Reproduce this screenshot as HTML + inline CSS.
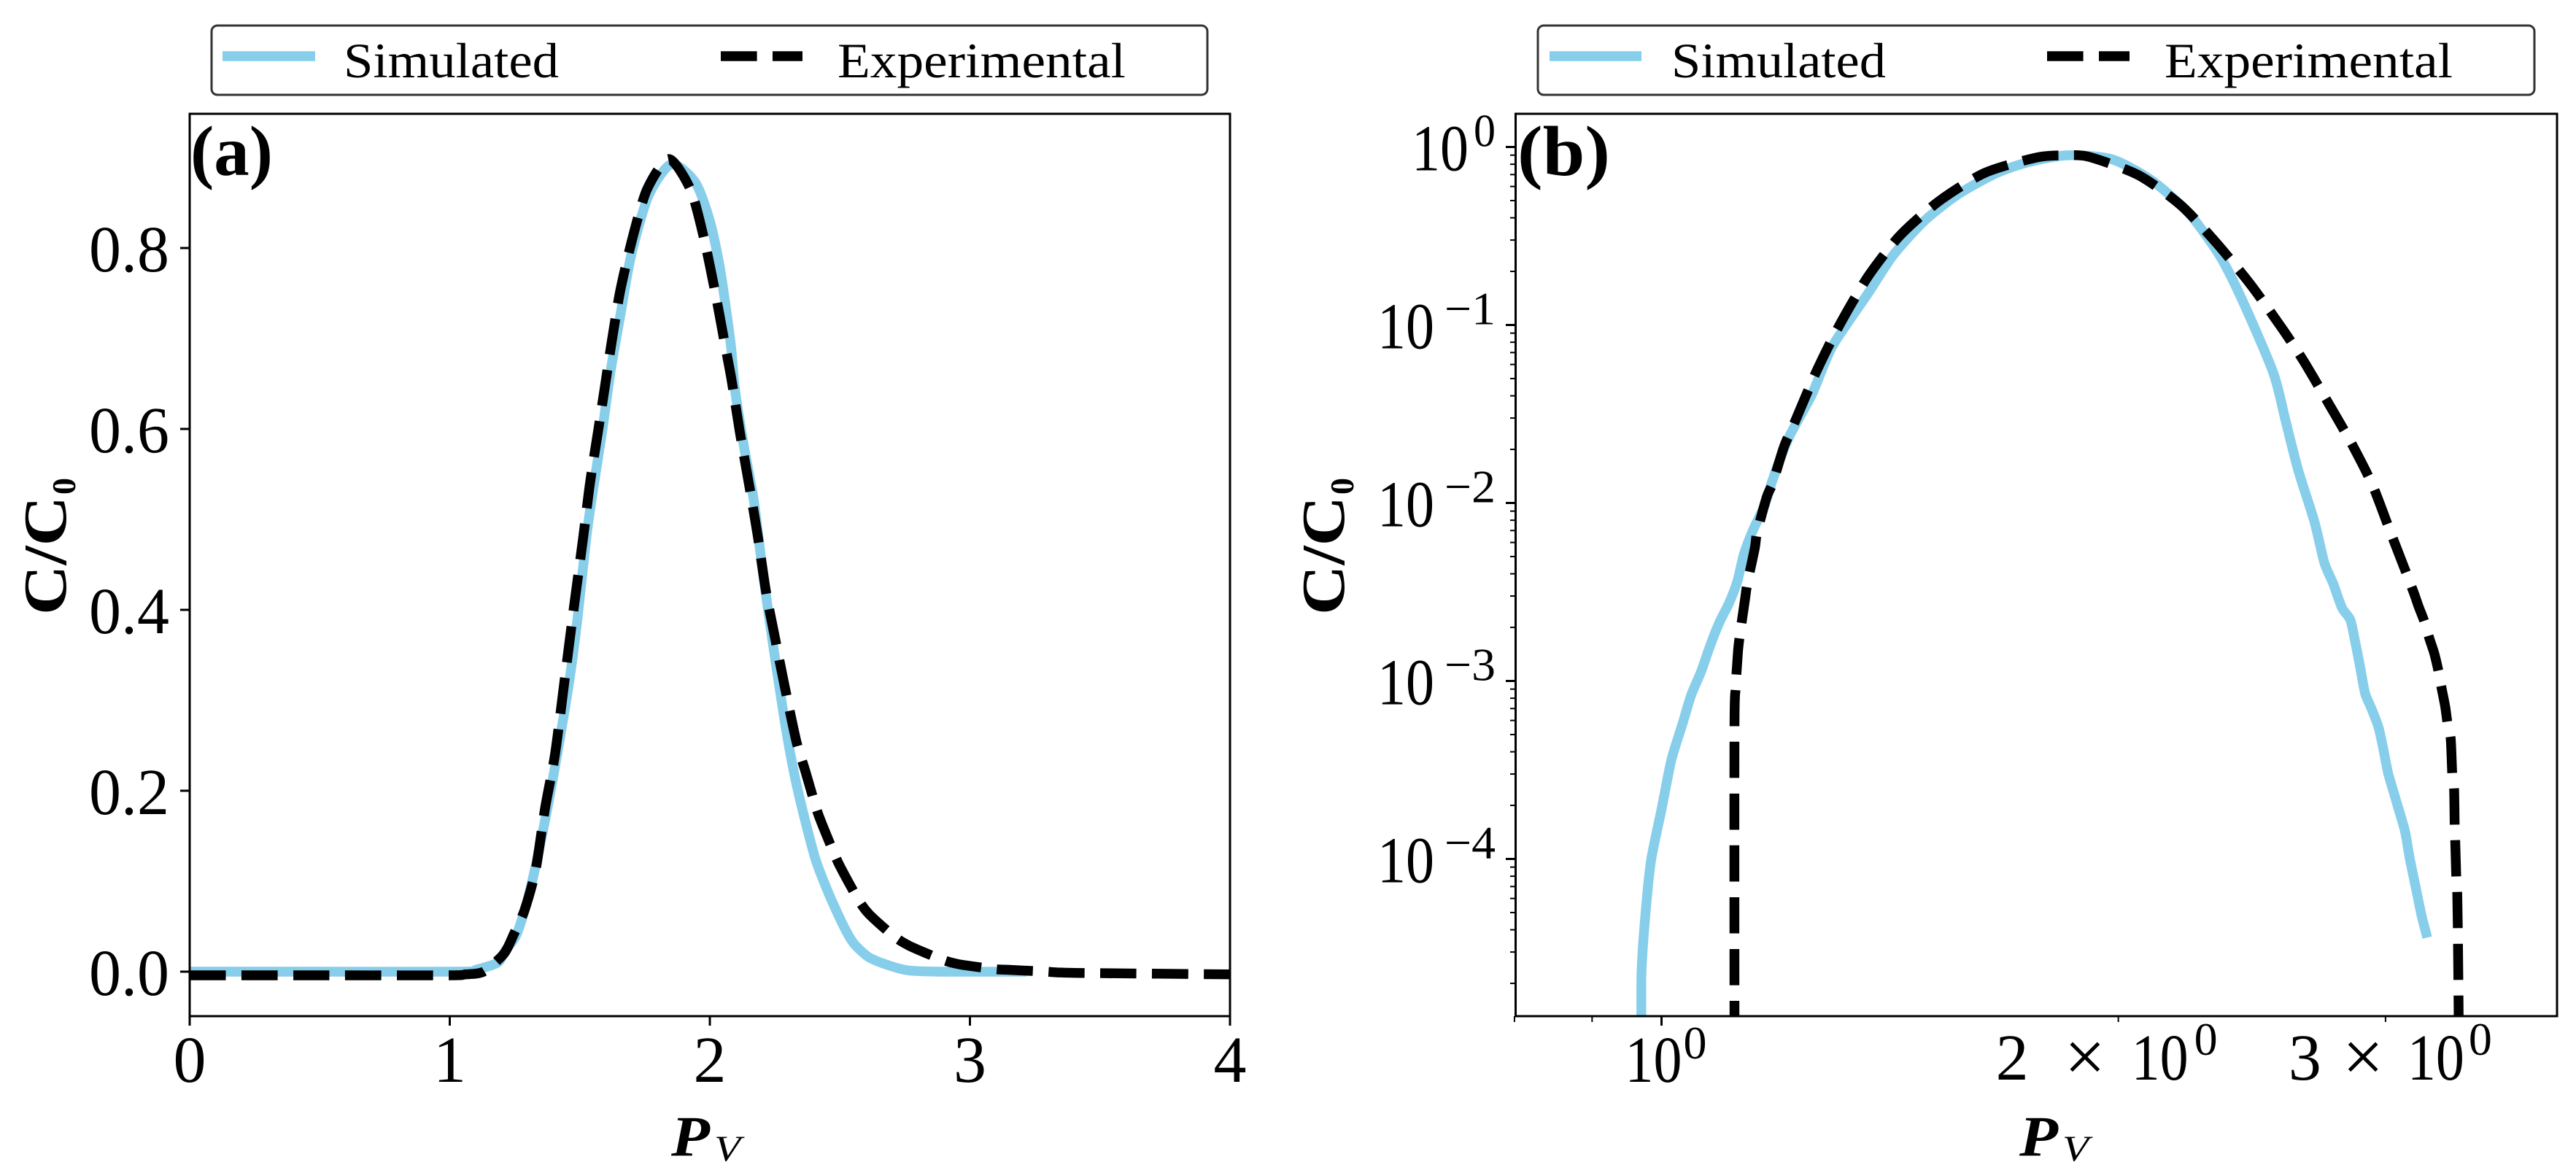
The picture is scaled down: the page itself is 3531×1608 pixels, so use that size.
<!DOCTYPE html>
<html lang="en">
<head>
<meta charset="utf-8">
<title>Simulated vs experimental C/C0 over Pv</title>
<style>
html,body{margin:0;padding:0;background:#fff;width:3531px;height:1608px;overflow:hidden}
svg{display:block}
text{font-family:"Liberation Serif",serif;fill:#000}
</style>
</head>
<body>
<svg id="fig" xmlns="http://www.w3.org/2000/svg" width="3531" height="1608" viewBox="0 0 3531 1608">
  <rect x="0" y="0" width="3531" height="1608" fill="#fff"/>
  <defs>
    <clipPath id="clip-a"><rect x="260" y="156" width="1426" height="1237"/></clipPath>
    <clipPath id="clip-b"><rect x="2077.5" y="156" width="1427.5" height="1237"/></clipPath>
  </defs>

  <g>
    <rect x="290" y="35" width="1365" height="95" rx="8" ry="8" fill="#fff" stroke="#333" stroke-width="3"/>
    <line x1="305" y1="77" x2="432" y2="77" stroke="#87CEEB" stroke-width="13.4"/>
    <text x="471" y="106" font-size="68" textLength="295" lengthAdjust="spacingAndGlyphs">Simulated</text>
    <line x1="988" y1="77" x2="1100" y2="77" stroke="#000" stroke-width="13.4" stroke-dasharray="49.6 21.4"/>
    <text x="1148" y="106" font-size="68" textLength="395" lengthAdjust="spacingAndGlyphs">Experimental</text>
  </g>
  <g>
    <rect x="2108" y="35" width="1366" height="95" rx="8" ry="8" fill="#fff" stroke="#333" stroke-width="3"/>
    <line x1="2124" y1="77" x2="2250" y2="77" stroke="#87CEEB" stroke-width="13.4"/>
    <text x="2291" y="106" font-size="68" textLength="294" lengthAdjust="spacingAndGlyphs">Simulated</text>
    <line x1="2806" y1="77" x2="2919" y2="77" stroke="#000" stroke-width="13.4" stroke-dasharray="49.6 21.4"/>
    <text x="2967" y="106" font-size="68" textLength="395" lengthAdjust="spacingAndGlyphs">Experimental</text>
  </g>

  <g id="plot-a"></g>
  <g id="plot-b"></g>

  <text x="261" y="240" font-size="98" font-weight="bold" textLength="113" lengthAdjust="spacingAndGlyphs">(a)</text>
  <text x="2080" y="240" font-size="98" font-weight="bold" textLength="127" lengthAdjust="spacingAndGlyphs">(b)</text>

  <g>
    <text transform="translate(90,843) rotate(-90)" font-size="84" font-weight="bold" textLength="163" lengthAdjust="spacingAndGlyphs">C/C</text>
    <text transform="translate(103,678) rotate(-90)" font-size="46" font-weight="bold">0</text>
  </g>
  <g>
    <text transform="translate(1842,843) rotate(-90)" font-size="84" font-weight="bold" textLength="163" lengthAdjust="spacingAndGlyphs">C/C</text>
    <text transform="translate(1855,678) rotate(-90)" font-size="46" font-weight="bold">0</text>
  </g>
  <g>
    <text x="920" y="1584" font-size="78" font-weight="bold" font-style="italic" textLength="53" lengthAdjust="spacingAndGlyphs">P</text>
    <text x="979" y="1591" font-size="50" font-style="italic" textLength="36" lengthAdjust="spacingAndGlyphs">V</text>
  </g>
  <g>
    <text x="2768" y="1584" font-size="78" font-weight="bold" font-style="italic" textLength="53" lengthAdjust="spacingAndGlyphs">P</text>
    <text x="2827" y="1591" font-size="50" font-style="italic" textLength="36" lengthAdjust="spacingAndGlyphs">V</text>
  </g>
</svg>

<script>
// Panel (a): linear axes
const aXTicks = [0, 1, 2, 3, 4];
const aYTicks = [0.0, 0.2, 0.4, 0.6, 0.8];
const aYTickLabels = ['0.0', '0.2', '0.4', '0.6', '0.8'];

const aSimX = [0, 0.5, 1.05, 1.1, 1.184, 1.212, 1.256, 1.296, 1.334, 1.375, 1.413, 1.46, 1.492, 1.526, 1.555, 1.586, 1.618, 1.655, 1.696, 1.763, 1.851, 1.944, 2.0, 2.04, 2.08, 2.096, 2.131, 2.168, 2.2, 2.231, 2.262, 2.293, 2.328, 2.37, 2.408, 2.459, 2.515, 2.553, 2.609, 2.674, 2.758, 2.88, 3.216];
const aSimY = [0, 0, 0, 0.002, 0.01, 0.0227, 0.0405, 0.0759, 0.122, 0.18, 0.24, 0.322, 0.3925, 0.482, 0.54, 0.597, 0.663, 0.724, 0.79, 0.857, 0.8927, 0.8726, 0.83, 0.776, 0.695, 0.645, 0.581, 0.523, 0.45, 0.385, 0.325, 0.2677, 0.214, 0.163, 0.1226, 0.085, 0.05, 0.0314, 0.0164, 0.0083, 0.0016, 0, 0];

const aExpX = [0, 0.5, 1.0, 1.06, 1.13, 1.209, 1.247, 1.287, 1.33, 1.366, 1.405, 1.445, 1.476, 1.514, 1.539, 1.57, 1.596, 1.622, 1.655, 1.7, 1.758, 1.842, 1.926, 1.978, 2.02, 2.057, 2.083, 2.115, 2.153, 2.184, 2.216, 2.25, 2.288, 2.333, 2.367, 2.405, 2.426, 2.478, 2.504, 2.571, 2.613, 2.707, 2.768, 2.889, 2.955, 3.09, 3.151, 3.291, 3.352, 3.478, 4.0];
const aExpY = [-0.004, -0.004, -0.004, -0.003, 0, 0.02, 0.042, 0.0675, 0.112, 0.18, 0.241, 0.33, 0.4, 0.482, 0.54, 0.597, 0.646, 0.695, 0.752, 0.808, 0.8645, 0.8985, 0.8645, 0.81, 0.752, 0.695, 0.655, 0.597, 0.535, 0.482, 0.42, 0.37, 0.315, 0.2543, 0.222, 0.1844, 0.167, 0.1306, 0.1145, 0.0796, 0.0634, 0.0393, 0.0285, 0.0137, 0.0083, 0.003, 0.002, 0, -0.001, -0.0016, -0.003];

// Panel (b): log-log axes
const bXMajorTicks = [1, 2, 3];
const bXMinorTicks = [0.8, 0.9];
const bYDecades = [0, -1, -2, -3, -4];
const bYMinorDecades = [-1, -2, -3, -4, -5];
const bYMinorMultipliers = [2, 3, 4, 5, 6, 7, 8, 9];

const bSimX = [0.97, 0.97, 0.975, 0.984, 1.0, 1.015, 1.032, 1.046, 1.062, 1.076, 1.092, 1.108, 1.122, 1.133, 1.149, 1.169, 1.184, 1.213, 1.256, 1.296, 1.367, 1.421, 1.49, 1.568, 1.66, 1.74, 1.848, 1.978, 2.102, 2.227, 2.332, 2.412, 2.53, 2.578, 2.627, 2.693, 2.734, 2.771, 2.808, 2.844, 2.865, 2.886, 2.908, 2.935, 2.968, 2.99, 3.012, 3.051, 3.09, 3.112, 3.141, 3.17, 3.196];
const bSimY = [1e-5, 2.25e-5, 4.45e-5, 9.66e-5, 1.9e-4, 3.59e-4, 5.7e-4, 8.32e-4, 1.13e-3, 1.56e-3, 2.14e-3, 2.74e-3, 3.64e-3, 5.14e-3, 7.05e-3, 9.66e-3, 0.0136, 0.0233, 0.0405, 0.0759, 0.149, 0.246, 0.384, 0.541, 0.709, 0.816, 0.897, 0.856, 0.653, 0.422, 0.246, 0.14, 0.054, 0.0289, 0.0154, 0.00786, 0.00462, 0.00352, 0.00258, 0.0022, 0.00166, 0.00121, 8.55e-4, 7.08e-4, 5.51e-4, 4.15e-4, 3.03e-4, 2.08e-4, 1.43e-4, 1.01e-4, 6.9e-5, 4.73e-5, 3.62e-5];

const bExpX = [1.117, 1.117, 1.119, 1.123, 1.126, 1.135, 1.139, 1.152, 1.156, 1.173, 1.184, 1.204, 1.225, 1.264, 1.307, 1.367, 1.436, 1.525, 1.634, 1.766, 1.843, 1.913, 2.062, 2.2, 2.321, 2.444, 2.56, 2.65, 2.745, 2.85, 2.94, 3.03, 3.124, 3.153, 3.182, 3.206, 3.231, 3.252, 3.266, 3.284, 3.296, 3.312, 3.32, 3.329, 3.332, 3.335, 3.34, 3.345, 3.349, 3.353];
const bExpY = [1e-5, 5.33e-4, 9.14e-4, 1.46e-3, 1.79e-3, 2.87e-3, 3.52e-3, 5.56e-3, 6.82e-3, 0.01076, 0.013, 0.0206, 0.0289, 0.0541, 0.0964, 0.1855, 0.318, 0.4995, 0.717, 0.872, 0.897, 0.88, 0.695, 0.469, 0.289, 0.169, 0.0977, 0.0625, 0.0375, 0.0215, 0.0127, 0.00649, 0.00331, 0.00265, 0.00216, 0.00174, 0.00142, 0.00112, 9.14e-4, 7.22e-4, 5.77e-4, 4.72e-4, 2.94e-4, 2.47e-4, 1.54e-4, 1.24e-4, 7.85e-5, 6.5e-5, 3.15e-5, 1e-5];

// Axis functions
const aAxisX = v => 260 + 356.5 * v;
const aAxisY = v => 1332 - 1240 * v;
const bAxisX = v => 2277.5 + 2080 * Math.log10(v);
const bAxisY = v => 201.5 - 244 * Math.log10(v);

const SVG_NS = 'http://www.w3.org/2000/svg';
const plotA = document.getElementById('plot-a');
const plotB = document.getElementById('plot-b');

function makeTick(parent, x1, y1, x2, y2, width) {
  const t = document.createElementNS(SVG_NS, 'line');
  t.setAttribute('x1', x1);
  t.setAttribute('y1', y1);
  t.setAttribute('x2', x2);
  t.setAttribute('y2', y2);
  t.setAttribute('stroke', '#000');
  t.setAttribute('stroke-width', width);
  parent.appendChild(t);
  return t;
}

function makeText(parent, str, x, y, size, anchor, length) {
  const t = document.createElementNS(SVG_NS, 'text');
  t.setAttribute('x', x);
  t.setAttribute('y', y);
  t.setAttribute('font-size', size);
  t.setAttribute('text-anchor', anchor);
  if (length) {
    t.setAttribute('textLength', length);
    t.setAttribute('lengthAdjust', 'spacingAndGlyphs');
  }
  t.textContent = str;
  parent.appendChild(t);
  return t;
}

// Smooth curve through the mapped data points
function curvePath(xs, ys, fx, fy) {
  const p = xs.map((v, i) => [fx(v), fy(ys[i])]);
  let d = 'M' + p[0][0].toFixed(1) + ' ' + p[0][1].toFixed(1);
  for (let i = 0; i < p.length - 1; i++) {
    const p0 = p[Math.max(i - 1, 0)], p1 = p[i], p2 = p[i + 1], p3 = p[Math.min(i + 2, p.length - 1)];
    const c1x = p1[0] + (p2[0] - p0[0]) / 8, c1y = p1[1] + (p2[1] - p0[1]) / 8;
    const c2x = p2[0] - (p3[0] - p1[0]) / 8, c2y = p2[1] - (p3[1] - p1[1]) / 8;
    d += 'C' + c1x.toFixed(1) + ' ' + c1y.toFixed(1) + ' ' + c2x.toFixed(1) + ' ' + c2y.toFixed(1) + ' ' + p2[0].toFixed(1) + ' ' + p2[1].toFixed(1);
  }
  return d;
}

function makeSeries(parent, xs, ys, fx, fy, color, dashed, clipId) {
  const path = document.createElementNS(SVG_NS, 'path');
  path.setAttribute('d', curvePath(xs, ys, fx, fy));
  path.setAttribute('fill', 'none');
  path.setAttribute('stroke', color);
  path.setAttribute('stroke-width', '13.4');
  path.setAttribute('stroke-linejoin', 'round');
  if (dashed) path.setAttribute('stroke-dasharray', '49.6 21.4');
  path.setAttribute('clip-path', 'url(#' + clipId + ')');
  parent.appendChild(path);
  return path;
}

function makeFrame(parent, x, y, w, h) {
  const r = document.createElementNS(SVG_NS, 'rect');
  r.setAttribute('x', x);
  r.setAttribute('y', y);
  r.setAttribute('width', w);
  r.setAttribute('height', h);
  r.setAttribute('fill', 'none');
  r.setAttribute('stroke', '#000');
  r.setAttribute('stroke-width', '3');
  parent.appendChild(r);
  return r;
}

// ---------- Panel (a) ----------
const simA = makeSeries(plotA, aSimX, aSimY, aAxisX, aAxisY, '#87CEEB', false, 'clip-a');


const expA = makeSeries(plotA, aExpX, aExpY, aAxisX, aAxisY, '#000', true, 'clip-a');


const frameA = makeFrame(plotA, 260, 156, 1426, 1237);



aXTicks.forEach(v => {
  const tick = makeTick(plotA, aAxisX(v), 1393, aAxisX(v), 1406, 3);
  
  
  const label = makeText(plotA, String(v), aAxisX(v), 1483, 90, 'middle');
  
  
});
aYTicks.forEach((v, i) => {
  const tick = makeTick(plotA, 247, aAxisY(v), 260, aAxisY(v), 3);
  
  
  const label = makeText(plotA, aYTickLabels[i], 232, aAxisY(v) + 32, 90, 'end', 110);
  
  
});

// ---------- Panel (b) ----------
const simB = makeSeries(plotB, bSimX, bSimY, bAxisX, bAxisY, '#87CEEB', false, 'clip-b');


const expB = makeSeries(plotB, bExpX, bExpY, bAxisX, bAxisY, '#000', true, 'clip-b');


const frameB = makeFrame(plotB, 2077.5, 156, 1427.5, 1237);



bXMinorTicks.forEach(v => {
  const tick = makeTick(plotB, bAxisX(v), 1393, bAxisX(v), 1401, 2);
  
  
});
bXMajorTicks.forEach(v => {
  const tickX = bAxisX(v);
  const isOne = v === 1;
  const tick = makeTick(plotB, tickX, 1393, tickX, isOne ? 1406 : 1401, isOne ? 3 : 2);
  
  
  if (isOne) {
    const ten = makeText(plotB, '10', tickX - 50, 1483, 90, 'start', 78);
    
    
    const exp = makeText(plotB, '0', tickX + 30, 1451, 64, 'start');
    
    
  } else {
    const off = v === 2 ? [-168, -74, 18, 104] : [-133, -59, 30, 114];
    const mant = makeText(plotB, String(v), tickX + off[0], 1480, 90, 'start');
    
    
    const times = makeText(plotB, '×', tickX + off[1], 1482, 100, 'start');
    
    
    const ten = makeText(plotB, '10', tickX + off[2], 1480, 90, 'start', 78);
    
    
    const exp = makeText(plotB, '0', tickX + off[3], 1446, 64, 'start');
    
    
  }
});
bYDecades.forEach(k => {
  const tickY = bAxisY(Math.pow(10, k));
  const tick = makeTick(plotB, 2064, tickY, 2077.5, tickY, 3);
  
  
  const ten = makeText(plotB, '10', k === 0 ? 1935 : 1888, tickY + 32, 90, 'start', 78);
  
  
  const expText = k === 0 ? '0' : '−' + (-k);
  const exp = makeText(plotB, expText, 2050, tickY - 1, 64, 'end', k === 0 ? 30 : 70);
  
  
});
bYMinorDecades.forEach(k => {
  bYMinorMultipliers.forEach(m => {
    const tickY = bAxisY(m * Math.pow(10, k));
    if (tickY < 156 || tickY > 1393) return;
    const tick = makeTick(plotB, 2070, tickY, 2077.5, tickY, 2);
    
    
  });
});
</script>
</body>
</html>
